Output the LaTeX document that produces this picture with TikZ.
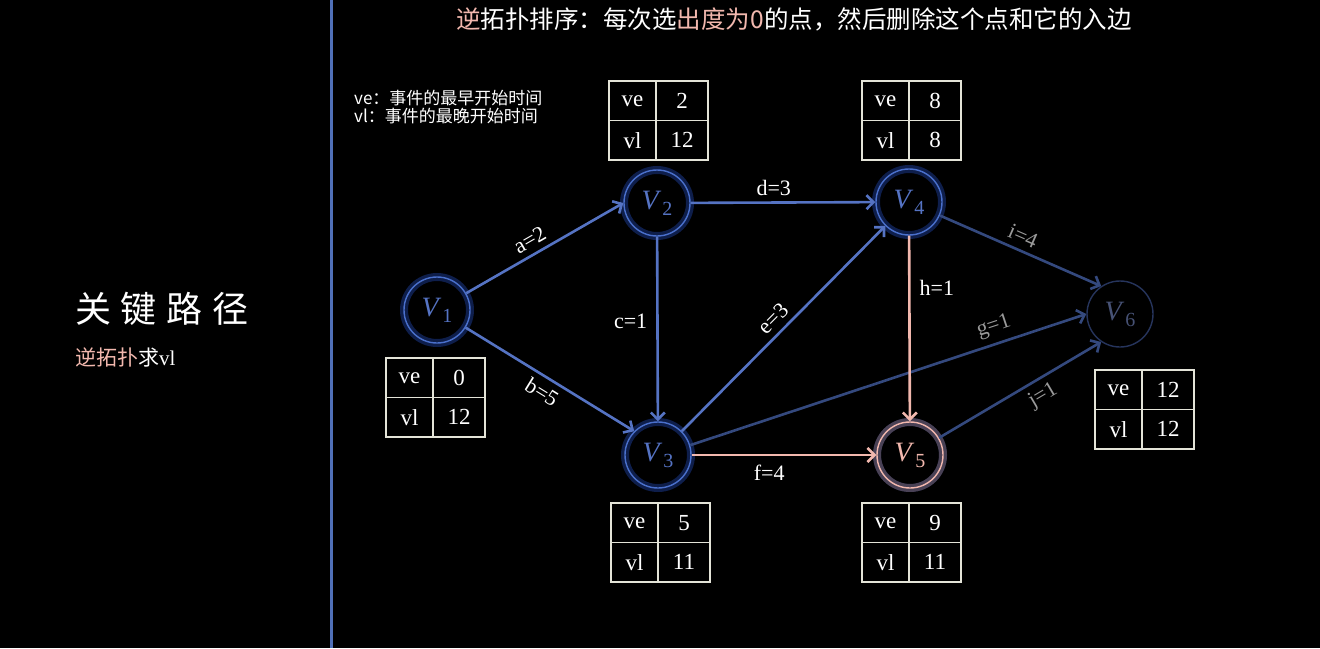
\documentclass[tikz,border=0pt]{standalone}
\usepackage{fontspec}
\setmainfont{Liberation Serif}
\newfontfamily\cjk{Noto Sans CJK SC}
\usetikzlibrary{arrows.meta}
\definecolor{edgeblue}{HTML}{5573C3}
\definecolor{ringblue}{HTML}{4A70CC}
\definecolor{glowblue}{HTML}{1C3C96}
\definecolor{dimblue}{HTML}{34497E}
\definecolor{dimring}{HTML}{26345C}
\definecolor{pinkish}{HTML}{F2B8AE}
\definecolor{gridline}{HTML}{E4E4D8}
\definecolor{dimtext}{HTML}{9A9A9A}
\definecolor{divider}{HTML}{5070B8}

% ve / vl table below or above a vertex
\newcommand{\vtable}[5]{%
  \node[lcell, anchor=north west] (#1a) at (#2,#3) {ve};
  \node[rcell, anchor=north west] (#1b) at (#1a.north east) {#4};
  \node[lcell, anchor=north west] (#1c) at (#1a.south west) {vl};
  \node[rcell, anchor=north west] (#1d) at (#1c.north east) {#5};
}
% vertex name: italic V with upright index
\newcommand{\vname}[1]{\textit{V}\kern1pt\raisebox{-6pt}{\fontsize{20}{20}\selectfont #1}}

\begin{document}
\begin{tikzpicture}[x=1pt, y=-1pt,
  % Define the styles for the vertices, edges and tables
  vtx/.style={circle, draw=ringblue, line width=1.4pt, minimum size=66pt, inner sep=0pt,
    text=edgeblue, font=\fontsize{28}{28}\selectfont,
    preaction={draw=glowblue, line width=8pt, opacity=0.5}},
  pvtx/.style={vtx, draw=pinkish, text=pinkish,
    preaction={draw=pinkish!55!black, line width=8pt, opacity=0.5}},
  dvtx/.style={circle, draw=dimring, line width=1.4pt, minimum size=66pt, inner sep=0pt,
    text=dimring!85!white, font=\fontsize{28}{28}\selectfont},
  edge/.style={draw=edgeblue, line width=2.6pt, -{Straight Barb[length=7pt, width=14pt]}},
  pedge/.style={edge, draw=pinkish},
  dedge/.style={edge, draw=dimblue},
  elab/.style={text=white, font=\fontsize{22}{22}\selectfont, inner sep=3pt},
  slab/.style={elab, sloped, inner sep=6pt},
  dlab/.style={slab, text=dimtext},
  lcell/.style={draw=gridline, line width=1.4pt, outer sep=0pt, minimum width=47pt, minimum height=39.5pt,
    text=white, font=\fontsize{23}{23}\selectfont},
  rcell/.style={lcell, minimum width=52pt}
  ]

  \useasboundingbox (0,0) rectangle (1320,648);
  \fill[black] (0,0) rectangle (1320,648);

  % left panel
  \draw[divider, line width=3pt] (331.5,0) -- (331.5,648);
  \node[text=white, font=\cjk\fontsize{36}{36}\selectfont] (title) at (162,309)
    {关\hspace{10pt}键\hspace{10pt}路\hspace{10pt}径};
  \node[anchor=west, text=white, font=\fontsize{21}{21}\selectfont, inner sep=0pt] (sub) at (75,357)
    {{\cjk\textcolor{pinkish}{逆拓扑}求}vl};

  % heading and legend
  \node[text=white, font=\cjk\fontsize{24.5}{24.5}\selectfont] (head) at (794,19)
    {\textcolor{pinkish}{逆}拓扑排序：每次选\textcolor{pinkish}{出度为0}的点，然后删除这个点和它的入边};
  \node[anchor=west, text=white, font=\cjk\fontsize{17}{17.5}\selectfont, align=left, inner sep=0pt] (legend) at (354,107)
    {ve：事件的最早开始时间\\vl：事件的最晚开始时间};

  % vertices
  \node[vtx] (v1) at (437,310) {\vname{1}};
  \node[vtx] (v2) at (657,203) {\vname{2}};
  \node[vtx] (v3) at (658,455) {\vname{3}};
  \node[vtx] (v4) at (909,202) {\vname{4}};
  \node[pvtx] (v5) at (910,455) {\vname{5}};
  \node[dvtx] (v6) at (1120,314) {\vname{6}};

  % edges
  \draw[edge] (v1) -- node[slab, above, pos=0.45] (la) {a=2} (v2.west);
  \draw[edge] (v1) -- node[slab, below, pos=0.5] (lb) {b=5} (v3.north west);
  \draw[edge] (v2) -- node[elab, left, pos=0.46, xshift=-6pt] (lc) {c=1} (v3);
  \draw[edge] (v2) -- node[elab, above, pos=0.45, yshift=3pt] (ld) {d=3} (v4);
  \draw[edge] (v3.north east) -- node[slab, above, pos=0.5] (le) {e=3} (v4);
  \draw[pedge] (v3) -- node[elab, below, pos=0.42, yshift=-6pt] (lf) {f=4} (v5);
  \draw[dedge] (v3.17) -- node[dlab, above, pos=0.78] (lg) {g=1} (v6.west);
  \draw[pedge] (v4) -- node[elab, right, pos=0.28, xshift=6pt] (lh) {h=1} (v5);
  \draw[dedge] (v4) -- node[dlab, above, pos=0.48] (li) {i=4} (v6.124);
  \draw[dedge] (v5) -- node[dlab, below, pos=0.59] (lj) {j=1} (v6.236);

  % tables
  \vtable{t1}{386}{358}{0}{12}
  \vtable{t2}{609}{81}{2}{12}
  \vtable{t3}{611}{503}{5}{11}
  \vtable{t4}{862}{81}{8}{8}
  \vtable{t5}{862}{503}{9}{11}
  \vtable{t6}{1095}{370}{12}{12}

\end{tikzpicture}
\end{document}
